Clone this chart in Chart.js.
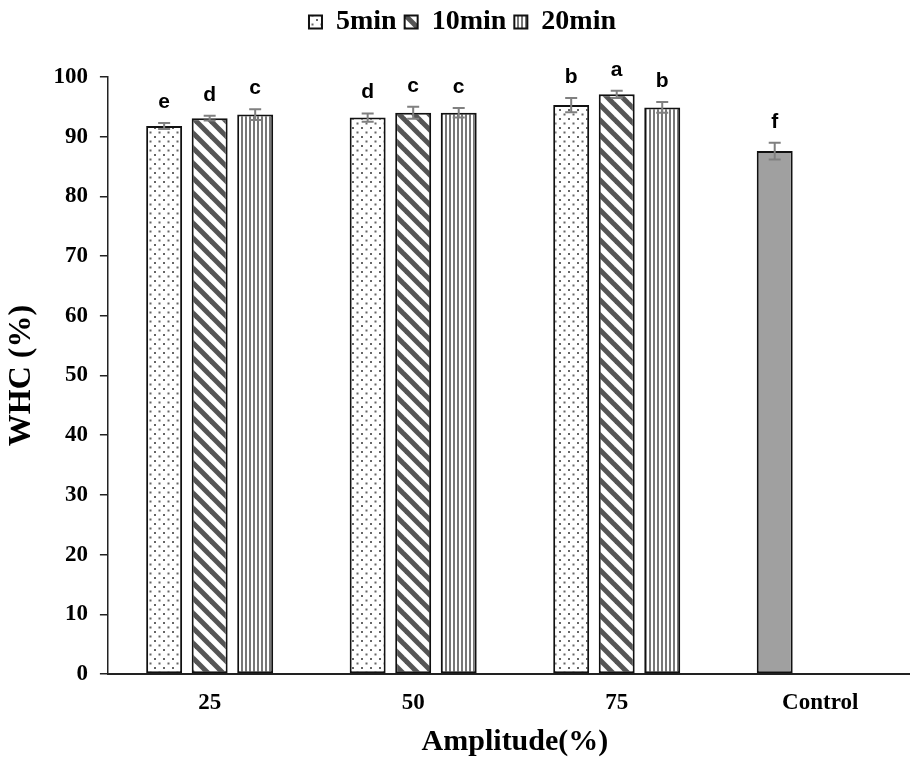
<!DOCTYPE html>
<html>
<head>
<meta charset="utf-8">
<script src="https://cdn.jsdelivr.net/npm/chart.js@4.4.0/dist/chart.umd.min.js"></script>
<style>
  html, body { margin: 0; padding: 0; background: #fff; overflow: hidden; }
  #wrap { width: 910px; height: 757px; overflow: hidden; }
</style>
</head>
<body>
<div id="wrap"><canvas id="chart" width="922" height="757"></canvas></div>
<script>
// data
const categories = ["25", "50", "75", "Control"];
const seriesNames = ["5min", "10min", "20min"];
const whc5 = [91.8, 93.2, 95.3, 87.6];
const whc10 = [93.1, 94.0, 97.1, null];
const whc20 = [93.7, 94.0, 94.9, null];
const err5 = [0.5, 0.7, 1.2, 1.4];
const err10 = [0.4, 1.0, 0.6, null];
const err20 = [0.9, 0.8, 0.9, null];
const letters5 = ["e", "d", "b", "f"];
const letters10 = ["d", "c", "a", null];
const letters20 = ["c", "c", "b", null];

function makePattern(kind) {
  const c = document.createElement("canvas");
  const p = c.getContext("2d");
  if (kind === "dots") {
    c.width = 9; c.height = 9;
    p.fillStyle = "#fff"; p.fillRect(0, 0, 9, 9);
    p.fillStyle = "#666";
    p.fillRect(1, 1, 2, 2);
    p.fillRect(5.5, 5.5, 2, 2);
  } else if (kind === "diag") {
    c.width = 15; c.height = 15;
    p.fillStyle = "#fff"; p.fillRect(0, 0, 15, 15);
    p.strokeStyle = "#555"; p.lineWidth = 5;
    for (let k = -1; k <= 1; k++) {
      p.beginPath();
      p.moveTo(k * 15 - 3, -3);
      p.lineTo(k * 15 + 18, 18);
      p.stroke();
    }
  } else {
    c.width = 4; c.height = 4;
    p.fillStyle = "#fff"; p.fillRect(0, 0, 4, 4);
    p.fillStyle = "#777";
    p.fillRect(1, 0, 2, 4);
  }
  return p.createPattern(c, "repeat");
}

const dotFill = makePattern("dots");
const diagFill = makePattern("diag");
const vertFill = makePattern("vert");

// extra room under the legend
const legendGap = {
  id: "legendGap",
  beforeInit(chart) {
    const fit = chart.legend.fit;
    chart.legend.fit = function () {
      fit.bind(chart.legend)();
      this.height += 31;
    };
  }
};

const errorBars = {
  id: "errorBars",
  afterDatasetsDraw(chart) {
    const ctx = chart.ctx;
    const y = chart.scales.y;
    chart.data.datasets.forEach((ds, di) => {
      const meta = chart.getDatasetMeta(di);
      meta.data.forEach((bar, i) => {
        const v = ds.data[i];
        if (v == null) return;
        const e = ds.errors[i];
        const yTop = y.getPixelForValue(v + e);
        const yBot = y.getPixelForValue(v - e);
        ctx.save();
        ctx.strokeStyle = "#808080";
        ctx.lineWidth = 2;
        ctx.beginPath();
        ctx.moveTo(bar.x, yTop); ctx.lineTo(bar.x, yBot);
        ctx.moveTo(bar.x - 6, yTop); ctx.lineTo(bar.x + 6, yTop);
        ctx.moveTo(bar.x - 6, yBot); ctx.lineTo(bar.x + 6, yBot);
        ctx.stroke();
        if (ds.letters[i]) {
          ctx.fillStyle = "#000";
          ctx.font = "bold 21px 'Liberation Sans', Arial, sans-serif";
          ctx.textAlign = "center";
          ctx.textBaseline = "alphabetic";
          ctx.fillText(ds.letters[i], bar.x, yTop - 15);
        }
        ctx.restore();
      });
    });
  }
};

const serif = "'Liberation Serif', 'Times New Roman', serif";

new Chart(document.getElementById("chart"), {
  type: "bar",
  data: {
    labels: categories,
    datasets: [
      {
        label: seriesNames[0],
        data: whc5,
        errors: err5,
        letters: letters5,
        backgroundColor: (c) => (c.dataIndex === 3 ? "#a0a0a0" : dotFill),
        borderColor: "#111",
        borderWidth: 2,
        borderSkipped: false,
      },
      {
        label: seriesNames[1],
        data: whc10,
        errors: err10,
        letters: letters10,
        backgroundColor: diagFill,
        borderColor: "#111",
        borderWidth: 2,
        borderSkipped: false,
      },
      {
        label: seriesNames[2],
        data: whc20,
        errors: err20,
        letters: letters20,
        backgroundColor: vertFill,
        borderColor: "#111",
        borderWidth: 2,
        borderSkipped: false,
      },
    ],
  },
  options: {
    responsive: false,
    animation: false,
    categoryPercentage: 0.671,
    barPercentage: 0.79,
    layout: { padding: { top: 0, right: 0, left: 3, bottom: 0 } },
    plugins: {
      legend: {
        position: "top",
        labels: {
          boxWidth: 13,
          boxHeight: 13,
          padding: 8,
          color: "#000",
          font: { family: serif, size: 28, weight: "bold" },
        },
      },
      tooltip: { enabled: false },
    },
    scales: {
      x: {
        grid: { display: false, drawTicks: false },
        border: { display: true, color: "#222", width: 2 },
        ticks: { color: "#000", padding: 18, font: { family: serif, size: 23, weight: "bold", lineHeight: 1 } },
        title: {
          display: true,
          text: "Amplitude(%)",
          color: "#000",
          padding: { top: -6, bottom: 0 },
          font: { family: serif, size: 30, weight: "bold", lineHeight: 1 },
        },
      },
      y: {
        min: 0,
        max: 100,
        ticks: { stepSize: 10, color: "#000", padding: 12, font: { family: serif, size: 23, weight: "bold" } },
        grid: { drawOnChartArea: false, tickLength: 8, color: "#222", lineWidth: 1.5 },
        border: { display: true, color: "#222", width: 1.5 },
        title: {
          display: true,
          text: "WHC (%)",
          color: "#000",
          padding: { top: 0, bottom: 0 },
          font: { family: serif, size: 32, weight: "bold" },
        },
      },
    },
  },
  plugins: [legendGap, errorBars],
});
</script>
</body>
</html>
